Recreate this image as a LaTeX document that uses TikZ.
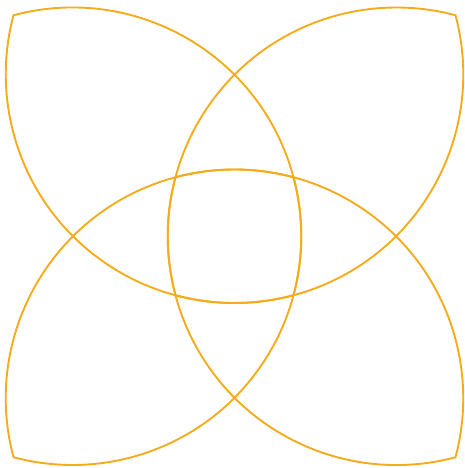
\documentclass[tikz,border=0pt]{standalone}
\definecolor{petalcol}{RGB}{245,172,28}
\begin{document}
\begin{tikzpicture}[x=10pt,y=10pt,
  petal/.style={draw=petalcol, line width=1.9pt, line join=miter}]
\useasboundingbox (-23.45,-23.175) rectangle (23.05,23.625);
\pgfmathsetmacro{\cc}{22.1}
\pgfmathsetmacro{\dd}{16.2}
\pgfmathsetmacro{\RR}{sqrt((\cc-\dd)*(\cc-\dd)+\cc*\cc)}
\pgfmathsetmacro{\ph}{atan2(\cc,\cc-\dd)}
\foreach \r in {0,90,180,270}{
  \draw[petal, rotate=\r] (-\cc,\cc)
    arc[start angle={180-\ph}, end angle={\ph-90}, radius=\RR]
    arc[start angle={-\ph}, end angle={\ph-270}, radius=\RR] -- cycle;
}
\end{tikzpicture}
\end{document}
